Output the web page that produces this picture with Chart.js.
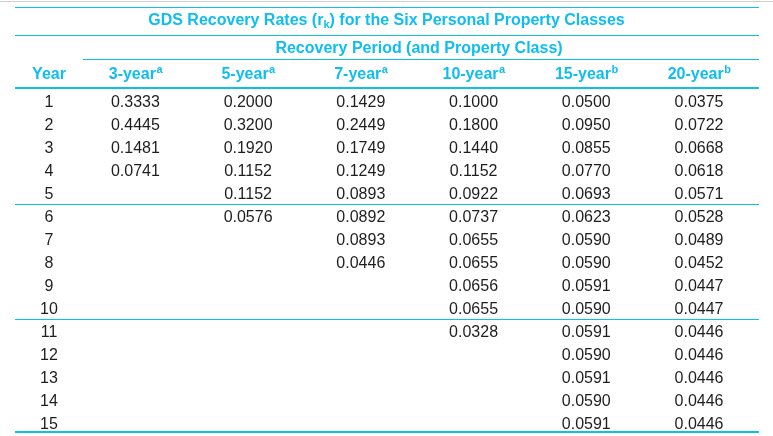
<!DOCTYPE html>
<html>
<head>
<meta charset="utf-8">
<script src="https://cdn.jsdelivr.net/npm/chart.js@4/dist/chart.umd.min.js"></script>
<style>
html,body{margin:0;padding:0;background:#fff;}
#wrap{width:773px;height:436px;position:relative;}
canvas{display:block;}
</style>
</head>
<body>
<div id="wrap"><canvas id="c" width="773" height="436"></canvas></div>
<script>
// ---- data ----
const titleMain = 'GDS Recovery Rates (r';
const titleSub = 'k';
const titleEnd = ') for the Six Personal Property Classes';
const groupTitle = 'Recovery Period (and Property Class)';
const yearHeader = 'Year';
const years = ['1','2','3','4','5','6','7','8','9','10','11','12','13','14','15'];
const columns = ['3-year','5-year','7-year','10-year','15-year','20-year'];
const notes = ['a','a','a','a','b','b'];
const rate3 = [0.3333, 0.4445, 0.1481, 0.0741];
const rate5 = [0.2000, 0.3200, 0.1920, 0.1152, 0.1152, 0.0576];
const rate7 = [0.1429, 0.2449, 0.1749, 0.1249, 0.0893, 0.0892, 0.0893, 0.0446];
const rate10 = [0.1000, 0.1800, 0.1440, 0.1152, 0.0922, 0.0737, 0.0655, 0.0655, 0.0656, 0.0655, 0.0328];
const rate15 = [0.0500, 0.0950, 0.0855, 0.0770, 0.0693, 0.0623, 0.0590, 0.0590, 0.0591, 0.0590, 0.0591, 0.0590, 0.0591, 0.0590, 0.0591];
const rate20 = [0.0375, 0.0722, 0.0668, 0.0618, 0.0571, 0.0528, 0.0489, 0.0452, 0.0447, 0.0447, 0.0446, 0.0446, 0.0446, 0.0446, 0.0446];
const seriesList = [rate3, rate5, rate7, rate10, rate15, rate20];
const groupBreaks = [5, 10];

// ---- style ----
const CYAN = '#0fbdf0';
const TEXT = '#1e1e1e';
const FONT = '"Liberation Sans", Arial, Helvetica, sans-serif';

const datasets = seriesList.map((vals, ci) => ({
  label: columns[ci],
  data: vals.map((v, ri) => ({ x: columns[ci], y: years[ri], v: v })),
  pointRadius: 0,
  pointHoverRadius: 0,
  showLine: false
}));

const tablePlugin = {
  id: 'tablePlugin',
  afterDatasetsDraw(chart) {
    const ctx = chart.ctx;
    const area = chart.chartArea;
    const xs = chart.scales.x, ys = chart.scales.y;
    const W = chart.width;
    const L = 15, R = W - 14;
    ctx.save();
    const hline = (yy, x0, x1, w, col) => {
      ctx.beginPath(); ctx.strokeStyle = col; ctx.lineWidth = w;
      ctx.moveTo(x0, yy); ctx.lineTo(x1, yy); ctx.stroke();
    };
    const r0 = ys.getPixelForValue(0);
    const rLast = ys.getPixelForValue(years.length - 1);
    hline(1.5, 0, W, 1, '#cfcfcf');
    hline(7.5, L, R, 1, CYAN);
    hline(35.5, L, R, 1, CYAN);
    hline(59.5, area.left + 4, R, 1, CYAN);
    hline(r0 - 13, L, R, 2, CYAN);
    groupBreaks.forEach(i => {
      const m = (ys.getPixelForValue(i - 1) + ys.getPixelForValue(i)) / 2;
      hline(Math.floor(m) + 0.5, L, R, 1, CYAN);
    });
    hline(rLast + 9, L, R, 2, CYAN);

    // title with subscript
    ctx.fillStyle = CYAN;
    ctx.textBaseline = 'alphabetic';
    ctx.textAlign = 'left';
    const big = 'bold 16px ' + FONT, small = 'bold 11px ' + FONT;
    ctx.font = big; const w1 = ctx.measureText(titleMain).width; const w3 = ctx.measureText(titleEnd).width;
    ctx.font = small; const w2 = ctx.measureText(titleSub).width;
    let tx = W / 2 - (w1 + w2 + w3) / 2;
    const tb = 24.5;
    ctx.font = big; ctx.fillText(titleMain, tx, tb); tx += w1;
    ctx.font = small; ctx.fillText(titleSub, tx, tb + 3); tx += w2;
    ctx.font = big; ctx.fillText(titleEnd, tx, tb);

    // group title
    ctx.textAlign = 'center';
    ctx.font = big;
    ctx.fillText(groupTitle, (area.left + R) / 2, 52.5);

    // header row
    const hb = 78.5;
    const yearX = (ys.left + ys.right) / 2;
    ctx.fillText(yearHeader, yearX, hb);
    columns.forEach((c, i) => {
      const cx = xs.getPixelForValue(i);
      ctx.font = big; const wc = ctx.measureText(c).width;
      ctx.font = small; const wn = ctx.measureText(notes[i]).width;
      const sx = cx - (wc + wn) / 2;
      ctx.textAlign = 'left';
      ctx.font = big; ctx.fillText(c, sx, hb);
      ctx.font = small; ctx.fillText(notes[i], sx + wc + 0.5, hb - 6);
    });

    // year labels
    ctx.fillStyle = TEXT;
    ctx.textAlign = 'center';
    ctx.font = '16px ' + FONT;
    years.forEach((yl, i) => {
      ctx.fillText(yl, yearX, ys.getPixelForValue(i) + 6);
    });

    // cell values
    chart.data.datasets.forEach((ds, di) => {
      const meta = chart.getDatasetMeta(di);
      meta.data.forEach((pt, pi) => {
        ctx.fillText(ds.data[pi].v.toFixed(4), pt.x, pt.y + 6);
      });
    });
    ctx.restore();
  }
};

new Chart(document.getElementById('c'), {
  type: 'scatter',
  data: { labels: columns, datasets: datasets },
  options: {
    responsive: false,
    devicePixelRatio: 1,
    animation: false,
    events: [],
    layout: { padding: { top: 89.5, bottom: 1.5, left: 19, right: 17.6 } },
    plugins: { legend: { display: false }, tooltip: { enabled: false }, title: { display: false } },
    scales: {
      x: { type: 'category', labels: columns, offset: true, display: false },
      y: {
        type: 'category', labels: years, offset: true, display: true,
        grid: { display: false, drawTicks: false }, border: { display: false },
        ticks: { display: false },
        afterFit: (s) => { s.width = 60; }
      }
    }
  },
  plugins: [tablePlugin]
});
</script>
</body>
</html>
